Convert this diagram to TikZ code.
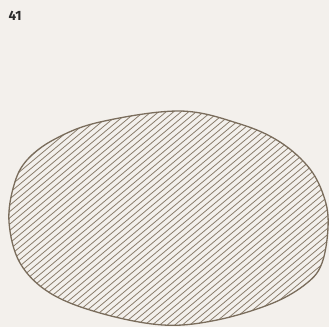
\documentclass[tikz,border=0pt]{standalone}
\usepackage{fontspec}
\setmainfont{Fira Sans}
\definecolor{bg}{HTML}{F3F0EC}
\definecolor{edge}{HTML}{7A6D5C}
\definecolor{hatch}{HTML}{8A7D6C}
\definecolor{ink}{HTML}{2B2B2B}
\tikzset{
  blobedge/.style={draw=edge, line width=1.3pt, line join=round},
  hatchline/.style={draw=hatch, line width=0.8pt},
  label/.style={font=\bfseries\fontsize{13.5}{13.5}\selectfont, text=ink, inner sep=0pt, anchor=west}
}
\begin{document}
\begin{tikzpicture}[x=1pt,y=-1pt]
\fill[bg] (0,0) rectangle (329,327);
\useasboundingbox (0,0) rectangle (329,327);
\node[label] (num) at (8.5,16) {41};
\def\blob{plot[smooth cycle, tension=0.6] coordinates {
 (180,111) (240,124) (280,142) (310,169) (325,200) (328,228)
 (322,263) (307,283) (273,303) (217,320) (163,325) (100,313)
 (50,293) (20,263) (9,222) (14,185) (27,160) (55,139) (100,122)}}
\begin{scope}
\clip \blob;
\foreach \c in {100,106.3,...,640}
  \draw[hatchline] (0,\c) -- (340,\c-285.3);
\end{scope}
\draw[blobedge] \blob;
\end{tikzpicture}
\end{document}
